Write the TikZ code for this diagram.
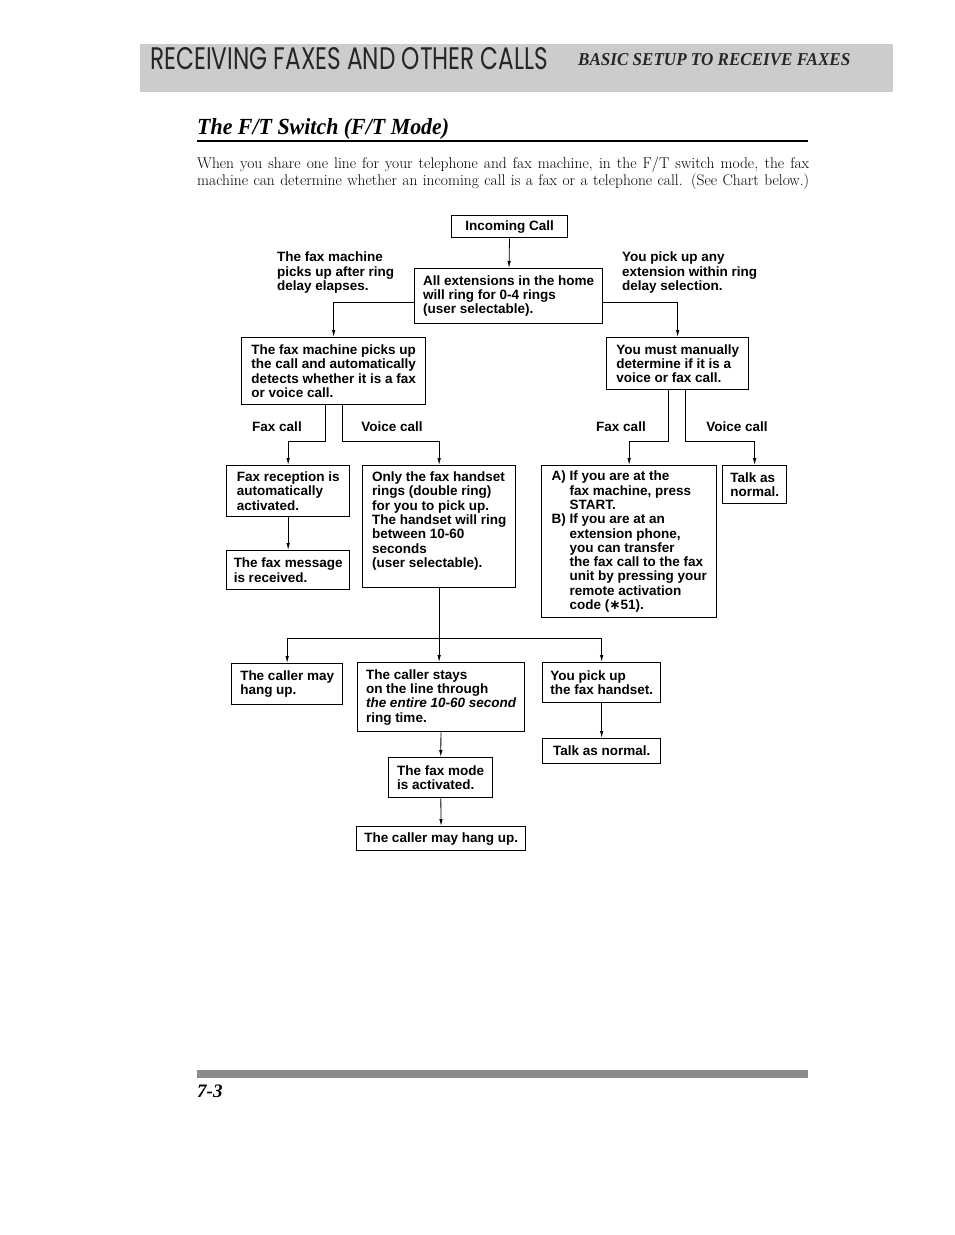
\documentclass[tikz,border=0pt]{standalone}
\usepackage{fontspec}
\usepackage{graphicx}
\usetikzlibrary{arrows.meta}
\newfontfamily\chartsans{Liberation Sans}
\newfontfamily\headsans{Poppins}
\newfontfamily\headserif{Liberation Serif}
\newfontfamily\starfont{DejaVu Sans}
\newcommand\chartfont{\chartsans\bfseries\fontsize{13.5}{14.3}\selectfont}
\newcommand\parafont{\fontsize{15.5}{18}\selectfont}
\newcommand\hangpad{\hspace*{18pt}}
\tikzset{
    box/.style={draw, line width=1.3pt, inner xsep=6pt, inner ysep=3pt, align=left, anchor=north west, font=\chartfont},
    note/.style={inner sep=0pt, align=left, font=\chartfont},
    arr/.style={-{Latex[length=7pt,width=3.5pt]}, line width=0.8pt},
    link/.style={line width=0.8pt}
}
\begin{document}
\begin{tikzpicture}[x=1pt, y=-1pt]
            \fill[white] (0,0) rectangle (954,1235);
            \useasboundingbox (0,0) rectangle (954,1235);
            % testata e titolo
            \fill[black!20] (140,44) rectangle (893,92);
            \node[anchor=base west, inner sep=0pt, text=black!85] (head) at (150,69) {\resizebox{398pt}{22pt}{\headsans RECEIVING FAXES AND OTHER CALLS}};
            \node[anchor=base west, inner sep=0pt, text=black!85] (subhead) at (578,65) {\resizebox{272pt}{12pt}{\headserif\bfseries\itshape BASIC SETUP TO RECEIVE FAXES}};
            \node[anchor=base west, inner sep=0pt] (title) at (197,134) {\resizebox{252pt}{16pt}{\headserif\bfseries\itshape The F/T Switch (F/T Mode)}};
            \draw[line width=1.5pt] (197,141) -- (808,141);
            \node[anchor=base west, inner sep=0pt] (para1) at (197,168) {\parafont\makebox[612pt][s]{When you share one line for your telephone and fax machine, in the F/T switch mode, the fax}};
            \node[anchor=base west, inner sep=0pt] (para2) at (197,185) {\parafont\makebox[612pt][s]{machine can determine whether an incoming call is a fax or a telephone call. (See Chart below.)}};

            % diagramma
            \node[box, minimum width=116pt, minimum height=22pt] (call) at (451,215) {Incoming Call};
            \node[box, minimum width=188pt, minimum height=55pt] (ring) at (414,268) {All extensions in the home\\will ring for 0-4 rings\\(user selectable).};
            \node[note, anchor=north west] (autonote) at (277,252) {The fax machine\\picks up after ring\\delay elapses.};
            \node[note, anchor=north west] (manualnote) at (622,252) {You pick up any\\extension within ring\\delay selection.};
            \node[box, minimum width=184pt, minimum height=67pt] (auto) at (241,337) {The fax machine picks up\\the call and automatically\\detects whether it is a fax\\or voice call.};
            \node[box, minimum width=142pt, minimum height=52pt] (manual) at (606,337) {You must manually\\determine if it is a\\voice or fax call.};
            \node[box, minimum width=123pt, minimum height=51pt] (faxrx) at (226,465) {Fax reception is\\automatically\\activated.};
            \node[box, minimum width=123pt, minimum height=39pt] (faxmsg) at (226,550) {The fax message\\is received.};
            \node[box, minimum width=153pt, minimum height=122pt] (handset) at (362,465) {Only the fax handset\\rings (double ring)\\for you to pick up.\\The handset will ring\\between 10-60\\seconds\\(user selectable).\\\mbox{}};
            \node[box, minimum width=175pt, minimum height=152pt] (start) at (541,465) {A) If you are at the\\\hangpad fax machine, press\\\hangpad START.\\B) If you are at an\\\hangpad extension phone,\\\hangpad you can transfer\\\hangpad the fax call to the fax\\\hangpad unit by pressing your\\\hangpad remote activation\\\hangpad code ({\starfont ∗}51).};
            \node[box, minimum width=64pt, minimum height=38pt] (talk1) at (722,465) {Talk as\\normal.};
            \node[box, minimum width=111pt, minimum height=41pt] (hangup1) at (231,663) {The caller may\\hang up.};
            \node[box, minimum width=167pt, minimum height=69pt] (stays) at (357,662) {The caller stays\\on the line through\\\textit{the entire 10-60 second}\\ring time.};
            \node[box, minimum width=118pt, minimum height=40pt] (pick) at (542,662) {You pick up\\the fax handset.};
            \node[box, minimum width=118pt, minimum height=25pt] (talk2) at (542,738) {Talk as normal.};
            \node[box, minimum width=104pt, minimum height=40pt] (mode) at (388,757) {The fax mode\\is activated.};
            \node[box, minimum width=169pt, minimum height=24pt] (hangup2) at (356,826) {The caller may hang up.};

            \foreach \labname/\labpos/\labtext in {faxl/277/Fax call, voicel/392/Voice call, faxr/621/Fax call, voicer/737/Voice call}
                \node[note] (\labname) at (\labpos,427) {\labtext};

            % collegamenti
            \draw[arr] (call) -- (ring);
            \draw[arr] ([yshift=-6pt]ring.west) -| (auto.north);
            \draw[arr] ([yshift=-6pt]ring.east) -| (manual.north);
            \draw[arr] ([xshift=-8pt]auto.south) -- ++(0,36) -| (faxrx.north);
            \draw[arr] ([xshift=9pt]auto.south) -- ++(0,36) -| (handset.north);
            \draw[arr] ([xshift=-9pt]manual.south) -- ++(0,51) -| (start.north);
            \draw[arr] ([xshift=8pt]manual.south) -- ++(0,51) -| (talk1.north);
            \draw[link] (handset.south) -- ++(0,50) coordinate (split);
            \draw[arr] (split) -| (hangup1.north);
            \draw[arr] (split) -| (pick.north);
            \draw[arr] (split) -- (split |- stays.north);
            \foreach \startnode/\endnode in {faxrx/faxmsg, pick/talk2, stays/mode, mode/hangup2}
                \draw[arr] (\startnode) -- (\endnode);

            % piede di pagina
            \fill[black!45] (197,1070) rectangle (808,1078);
            \node[anchor=base west, inner sep=0pt] (page) at (197,1097) {\headserif\fontsize{19}{22}\selectfont\bfseries\itshape 7-3};
\end{tikzpicture}
\end{document}
